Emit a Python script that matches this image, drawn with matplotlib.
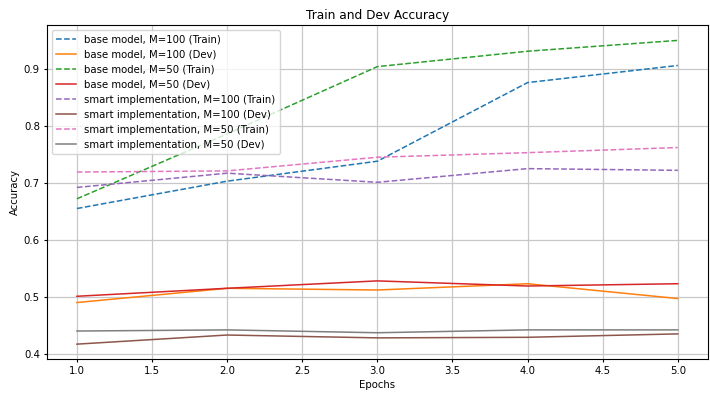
"""Train and dev accuracy for base model vs smart implementation."""
import matplotlib
matplotlib.use("Agg")
import matplotlib.pyplot as plt

epochs = [1, 2, 3, 4, 5]

base_100_train = [0.655, 0.703, 0.738, 0.876, 0.906]
base_100_dev = [0.490, 0.515, 0.512, 0.523, 0.497]
base_50_train = [0.672, 0.786, 0.904, 0.931, 0.950]
base_50_dev = [0.501, 0.515, 0.528, 0.519, 0.523]
smart_100_train = [0.692, 0.717, 0.701, 0.725, 0.722]
smart_100_dev = [0.417, 0.433, 0.428, 0.429, 0.435]
smart_50_train = [0.719, 0.721, 0.745, 0.753, 0.762]
smart_50_dev = [0.440, 0.442, 0.437, 0.442, 0.442]

plt.rcParams["font.size"] = 7.3
plt.rcParams["xtick.major.size"] = 2.5
plt.rcParams["ytick.major.size"] = 2.5
plt.rcParams["xtick.major.pad"] = 2.5
plt.rcParams["ytick.major.pad"] = 2.5
plt.rcParams["axes.labelpad"] = 3
plt.rcParams["axes.titlepad"] = 4.5
lw = 1.1

fig = plt.figure(figsize=(7.1, 3.94), dpi=100)
ax = fig.add_axes([0.066, 0.088, 0.931, 0.848])
ax.plot(epochs, base_100_train, "--", lw=lw, label="base model, M=100 (Train)")
ax.plot(epochs, base_100_dev, "-", lw=lw, label="base model, M=100 (Dev)")
ax.plot(epochs, base_50_train, "--", lw=lw, label="base model, M=50 (Train)")
ax.plot(epochs, base_50_dev, "-", lw=lw, label="base model, M=50 (Dev)")
ax.plot(epochs, smart_100_train, "--", lw=lw, label="smart implementation, M=100 (Train)")
ax.plot(epochs, smart_100_dev, "-", lw=lw, label="smart implementation, M=100 (Dev)")
ax.plot(epochs, smart_50_train, "--", lw=lw, label="smart implementation, M=50 (Train)")
ax.plot(epochs, smart_50_dev, "-", lw=lw, label="smart implementation, M=50 (Dev)")

ax.set_xlabel("Epochs")
ax.set_ylabel("Accuracy")
ax.set_title("Train and Dev Accuracy")
ax.legend(loc="upper left")
ax.grid(color="#c8c8c8", lw=0.9)
fig.savefig("out.png", dpi=100)
